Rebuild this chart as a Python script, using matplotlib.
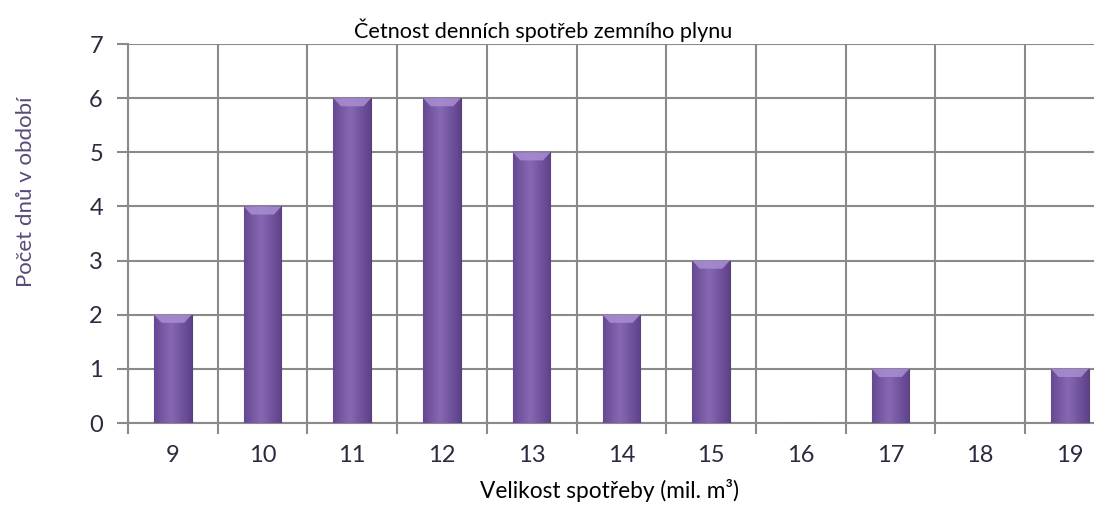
import matplotlib
matplotlib.use("Agg")
import matplotlib.pyplot as plt
import numpy as np

# data
sizes = [9, 10, 11, 12, 13, 14, 15, 16, 17, 18, 19]
days = [2, 4, 6, 6, 5, 2, 3, 0, 1, 0, 1]

plt.rcParams['font.family'] = ['Lato', 'DejaVu Sans']
grid_col = '#8a8a8a'
text_col = '#2e2840'

fig = plt.figure(figsize=(10.94, 5.11), dpi=100)
ax = fig.add_axes([128 / 1094, 88 / 511, 986.7 / 1094, 379 / 511])

x = np.arange(len(sizes))
bars = ax.bar(x, days, width=0.42, color='#7b5aa6', edgecolor='#55407a',
              linewidth=0.8, zorder=3)

# soft horizontal gradient on each bar (darker edges, lighter middle)
grad = np.linspace(0, 1, 64)
grad = 1 - np.abs(grad - 0.45) * 1.2
grad = np.vstack([grad, grad])
cmap = matplotlib.colors.LinearSegmentedColormap.from_list('pur', ['#5e4289', '#8767b4'])
for b in bars:
    h = b.get_height()
    if h <= 0:
        continue
    x0 = b.get_x()
    w = b.get_width()
    im = ax.imshow(grad, extent=[x0, x0 + w, 0, h], aspect='auto', cmap=cmap,
                   zorder=3.5, interpolation='bilinear')
    im.set_clip_path(b)
    # bevel highlight on the top
    ax.fill([x0, x0 + w, x0 + w * 0.8, x0 + w * 0.2],
            [h, h, h - 0.15, h - 0.15], color='#a88ed3', alpha=0.85,
            zorder=4, linewidth=0)

ax.set_xlim(-0.5, len(sizes) - 0.5)
ax.set_ylim(0, 7)
ax.set_yticks(range(0, 8))
ax.set_xticks(x)
ax.set_xticklabels([str(s) for s in sizes])
ax.set_xticks(np.arange(-0.5, len(sizes) + 0.5, 1), minor=True)

ax.grid(True, axis='y', which='major', color=grid_col, linewidth=1.5, zorder=0)
ax.grid(True, axis='x', which='minor', color=grid_col, linewidth=1.5, zorder=0)
ax.grid(False, axis='x', which='major')

ax.tick_params(axis='x', which='major', length=0, pad=16, labelsize=17, labelcolor=text_col)
ax.tick_params(axis='x', which='minor', length=8, width=1.5, color=grid_col)
ax.tick_params(axis='y', length=8, width=1.5, color=grid_col, pad=10,
               labelsize=17, labelcolor=text_col)

for s in ['top', 'right']:
    ax.spines[s].set_visible(False)
ax.spines['left'].set_color(grid_col)
ax.spines['left'].set_linewidth(1.5)
ax.spines['bottom'].set_color(grid_col)
ax.spines['bottom'].set_linewidth(1.5)

fig.text(543 / 1094, 1 - 30 / 511, 'Četnost denních spotřeb zemního plynu',
         ha='center', va='center', fontsize=15.6, color='black')
fig.text(610 / 1094, 1 - 490 / 511, 'Velikost spotřeby (mil. m³)',
         ha='center', va='center', fontsize=16.3, color='black')
fig.text(26 / 1094, 1 - 192 / 511, 'Počet dnů v období', rotation=90,
         ha='center', va='center', fontsize=16, color='#5a4a78')

fig.savefig('out.png', dpi=100)
